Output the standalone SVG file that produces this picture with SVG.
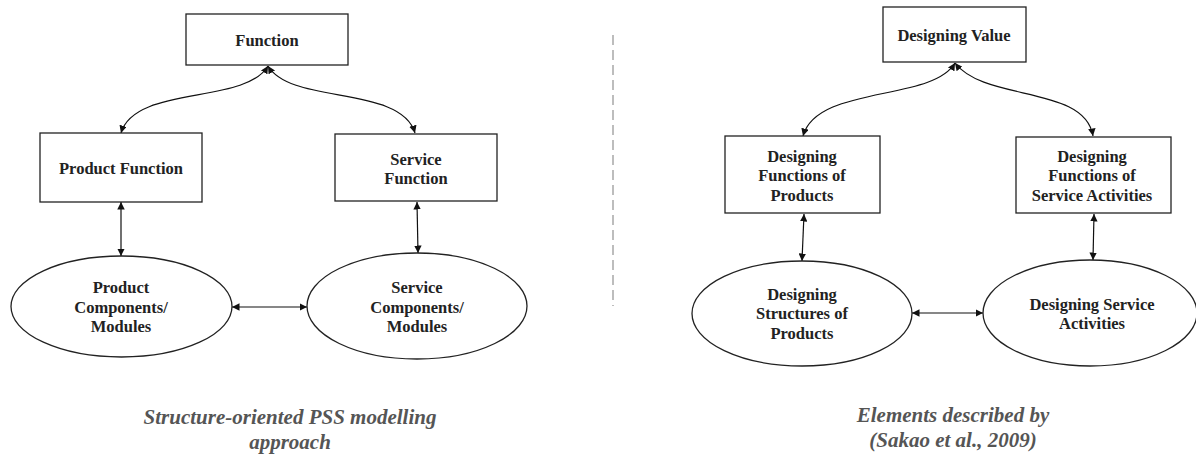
<svg xmlns="http://www.w3.org/2000/svg" width="1196" height="459" viewBox="0 0 1196 459">
<style>
.box{fill:#fff;stroke:#222;stroke-width:1.3}
.ell{fill:#fff;stroke:#222;stroke-width:1.3}
.t{font-family:"Liberation Serif","Times New Roman",serif;font-weight:bold;font-size:16.5px;fill:#222;text-anchor:middle}
.cap{font-family:"Liberation Serif","Times New Roman",serif;font-weight:bold;font-style:italic;font-size:21px;fill:#555;text-anchor:middle}
.c{fill:none;stroke:#111;stroke-width:1.2;marker-start:url(#ah);marker-end:url(#ah)}
.sep{stroke:#9a9a9a;stroke-width:1.3;stroke-dasharray:10 5}
</style>
<defs>
<marker id="ah" viewBox="0 0 10 10" refX="10" refY="5" markerWidth="7.5" markerHeight="7.5" markerUnits="userSpaceOnUse" orient="auto-start-reverse">
<path d="M0,0 L10,5 L0,10 z" fill="#111"/>
</marker>
</defs>
<rect width="1196" height="459" fill="#fff"/>
<line class="sep" x1="613" y1="35" x2="613" y2="306"/>
<g id="connectors">
<path class="c" d="M268,66 C245,105 135,85 121,133"/>
<path class="c" d="M268,66 C291,105 401,85 415,133"/>
<path class="c" d="M121,202 L121,256"/>
<path class="c" d="M417,202 L418,253"/>
<path class="c" d="M232,307 L307,307"/>
<path class="c" d="M955,63 C932,102 817,85 803,136"/>
<path class="c" d="M955,63 C985,102 1085,85 1093,136"/>
<path class="c" d="M804,214 L802,261"/>
<path class="c" d="M1094,214 L1093,260"/>
<path class="c" d="M912,313 L983,313"/>
</g>
<g id="function">
<rect class="box" x="186" y="14" width="162" height="51"/>
<text class="t" x="267" y="45.5">Function</text>
</g>
<g id="product-function">
<rect class="box" x="40" y="133" width="162" height="69"/>
<text class="t" x="121" y="173.5">Product Function</text>
</g>
<g id="service-function">
<rect class="box" x="335" y="134" width="162" height="67"/>
<text class="t" x="416" y="165">Service</text>
<text class="t" x="416" y="184">Function</text>
</g>
<g id="product-components">
<ellipse class="ell" cx="121.5" cy="306.5" rx="110.5" ry="50.5"/>
<text class="t" x="121" y="293">Product</text>
<text class="t" x="121" y="312.5">Components/</text>
<text class="t" x="121" y="332">Modules</text>
</g>
<g id="service-components">
<ellipse class="ell" cx="417" cy="306" rx="110" ry="53"/>
<text class="t" x="417" y="292.5">Service</text>
<text class="t" x="417" y="312.5">Components/</text>
<text class="t" x="417" y="332">Modules</text>
</g>
<g id="designing-value">
<rect class="box" x="883" y="7" width="143" height="55"/>
<text class="t" x="954" y="40.5">Designing Value</text>
</g>
<g id="designing-functions-products">
<rect class="box" x="725" y="136" width="155" height="77"/>
<text class="t" x="802" y="161.5">Designing</text>
<text class="t" x="802" y="181">Functions of</text>
<text class="t" x="802" y="200.5">Products</text>
</g>
<g id="designing-functions-services">
<rect class="box" x="1016" y="137" width="155" height="76"/>
<text class="t" x="1092" y="161.5">Designing</text>
<text class="t" x="1092" y="181">Functions of</text>
<text class="t" x="1092" y="200.5">Service Activities</text>
</g>
<g id="designing-structures">
<ellipse class="ell" cx="802" cy="313.5" rx="110" ry="52.5"/>
<text class="t" x="802" y="299.5">Designing</text>
<text class="t" x="802" y="318.5">Structures of</text>
<text class="t" x="802" y="338.5">Products</text>
</g>
<g id="designing-service-activities">
<ellipse class="ell" cx="1090" cy="313" rx="107" ry="53"/>
<text class="t" x="1092" y="309.5">Designing Service</text>
<text class="t" x="1092" y="328.5">Activities</text>
</g>
<g id="captions">
<text class="cap" x="290" y="424">Structure-oriented PSS modelling</text>
<text class="cap" x="290" y="449">approach</text>
<text class="cap" x="953" y="422">Elements described by</text>
<text class="cap" x="953" y="447">(Sakao et al., 2009)</text>
</g>
</svg>
